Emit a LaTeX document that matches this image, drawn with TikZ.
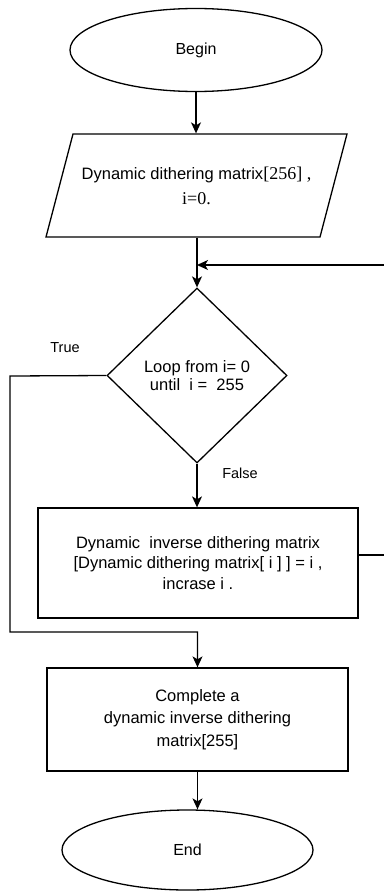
\documentclass[tikz,border=0pt]{standalone}
\usepackage{fontspec}
\setmainfont{Liberation Sans}
\newfontfamily\tms{Liberation Serif}
\usetikzlibrary{shapes.geometric,arrows.meta}
\begin{document}
\begin{tikzpicture}[x=1pt,y=-1pt,
  line width=1.3pt,
  arr/.style={-{Stealth[length=11pt,width=10pt,inset=3pt]}},
  term/.style={ellipse,draw,inner sep=0pt,font=\fontsize{16}{20}\selectfont},
  boxn/.style={rectangle,draw,inner sep=0pt,align=center},
  lbl/.style={font=\fontsize{14.5}{17}\selectfont,inner sep=0pt}]
\useasboundingbox (0,0) rectangle (383,891);
% nodes
\node[term,minimum width=252pt,minimum height=83pt] (begin) at (196,50) {Begin};
\draw (73,134) -- (347,134) -- (320,237) -- (46,237) -- cycle;
\node[rectangle,inner sep=0pt,minimum width=274pt,minimum height=103pt,align=center,
      font=\fontsize{16.5}{25}\selectfont] (input) at (196.5,185.5)
      {Dynamic dithering matrix{\tms\fontsize{18}{25}\selectfont[256] ,}\\{\tms\fontsize{18}{25}\selectfont i=0.}};
\node[diamond,draw,inner sep=0pt,minimum width=180pt,minimum height=175pt,align=center,
      font=\fontsize{16.5}{18.5}\selectfont] (dec) at (197,375.5)
      {Loop from i= 0\\until\ \ i =\ \ 255};
\node[boxn,minimum width=320pt,minimum height=110pt,font=\fontsize{16.5}{20.5}\selectfont] (box1) at (198,563)
      {Dynamic\ \ inverse dithering matrix\\\relax[Dynamic dithering matrix[ i ] ] = i ,\\incrase i .};
\node[boxn,minimum width=301pt,minimum height=103pt,font=\fontsize{16.5}{22.5}\selectfont] (box2) at (197.5,719.5)
      {Complete a\\dynamic inverse dithering\\matrix[255]};
\node[term,minimum width=251pt,minimum height=80pt] (end) at (187.5,850) {End};
% labels
\node[lbl] (ltrue) at (65,348) {True};
\node[lbl] (lfalse) at (240,473) {False};
% helper coordinates
\coordinate (fb1) at (386,555);
\coordinate (fb2) at (386,265);
\coordinate (t1) at (10,376);
\coordinate (t2) at (10,632);
% connectors
\draw[arr] (begin.south) -- (begin.south |- input.north);
\draw[arr] (input.south -| dec.north) -- (dec.north);
\draw[arr] (box1.east |- fb1) -- (fb1) -- (fb2) -- (dec.north |- fb2);
\draw[arr] (dec.south) -- (dec.south |- box1.north);
\draw[arr] (dec.west) -- (t1) -- (t2) -- (box2.north |- t2) -- (box2.north);
\draw[arr] (box2.south) -- (box2.south |- end.north);
\end{tikzpicture}
\end{document}
